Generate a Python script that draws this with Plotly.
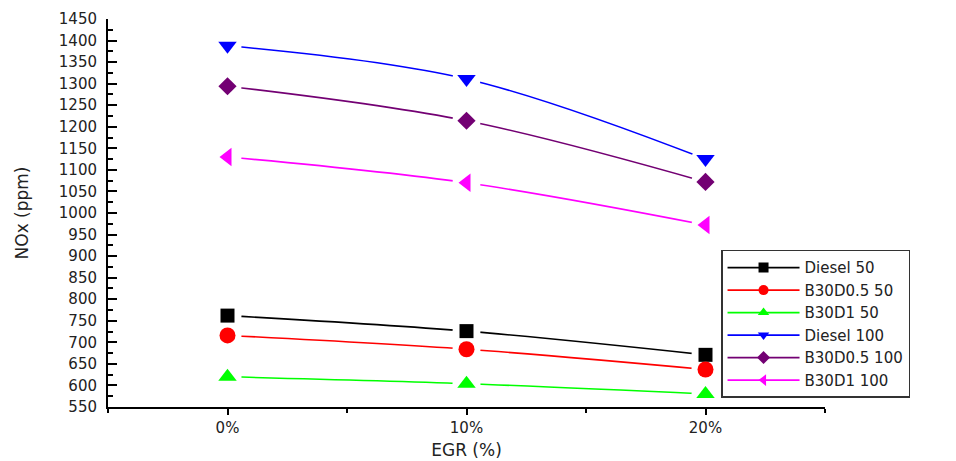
import plotly.graph_objects as go

egr = [0, 10, 20]
egr_labels = ["0%", "10%", "20%"]

series_names = ["Diesel 50", "B30D0.5 50", "B30D1 50", "Diesel 100", "B30D0.5 100", "B30D1 100"]
diesel_50 = [762, 726, 671]
b30d05_50 = [716, 684, 637]
b30d1_50 = [620, 604, 580]
diesel_100 = [1388, 1311, 1125]
b30d05_100 = [1294, 1214, 1072]
b30d1_100 = [1130, 1070, 972]

values = [diesel_50, b30d05_50, b30d1_50, diesel_100, b30d05_100, b30d1_100]
colors = ["#000000", "#FF0000", "#00FF00", "#0000FF", "#730073", "#FF00FF"]
symbols = ["square", "circle", "triangle-up", "triangle-down", "diamond", "triangle-left"]
sizes = [14, 16, 16, 16, 14, 16]

fig = go.Figure()

# smoothed lines
for v, c in zip(values, colors):
    fig.add_trace(go.Scatter(x=egr, y=v, mode="lines",
                             line=dict(color=c, width=1.6, shape="spline", smoothing=1.0),
                             showlegend=False, hoverinfo="skip"))
# white halos give the gaps around markers
for v in values:
    fig.add_trace(go.Scatter(x=egr, y=v, mode="markers",
                             marker=dict(color="white", size=28, symbol="circle"),
                             showlegend=False, hoverinfo="skip"))
# markers
for name, v, c, s, sz in zip(series_names, values, colors, symbols, sizes):
    fig.add_trace(go.Scatter(x=egr, y=v, mode="markers", name=name, showlegend=False,
                             marker=dict(color=c, size=sz, symbol=s, line=dict(width=0))))
# legend entries (line + marker)
for name, c, s in zip(series_names, colors, symbols):
    fig.add_trace(go.Scatter(x=[None], y=[None], mode="lines+markers", name=name,
                             line=dict(color=c, width=1.6),
                             marker=dict(color=c, size=10, symbol=s, line=dict(width=0))))

font_family = "DejaVu Sans, Arial, sans-serif"

# page body has an 8px margin, so the figure is offset by (8, 8) in the window
fig.update_layout(
    width=948, height=453,
    margin=dict(l=100, r=131, t=11, b=54),
    paper_bgcolor="white", plot_bgcolor="white",
    font=dict(family=font_family, size=14, color="#222222"),
    showlegend=True,
    legend=dict(x=0.855, y=0.405, xanchor="left", yanchor="top",
                bordercolor="#333333", borderwidth=1.5, bgcolor="white",
                font=dict(size=15, family=font_family, color="#222222"),
                itemwidth=72, tracegroupgap=0),
    xaxis=dict(range=[-5, 25], tickvals=egr, ticktext=egr_labels, automargin=False,
               showline=True, linecolor="black", linewidth=2, showgrid=False, zeroline=False,
               ticks="outside", ticklen=6, tickwidth=2, tickcolor="black",
               minor=dict(dtick=5, tick0=0, ticks="outside", ticklen=4, tickwidth=1.5, tickcolor="black"),
               tickfont=dict(size=15),
               title=dict(text="EGR (%)", font=dict(size=17), standoff=8)),
    yaxis=dict(range=[550, 1450], dtick=50, tick0=550, automargin=False,
               showline=True, linecolor="black", linewidth=2, showgrid=False, zeroline=False,
               ticks="inside", ticklen=9, tickwidth=1.5, tickcolor="black",
               minor=dict(dtick=25, ticks="inside", ticklen=5, tickwidth=1.5, tickcolor="black"),
               tickfont=dict(size=15), ticklabelstandoff=6,
               title=dict(text="NOx (ppm)", font=dict(size=17), standoff=26)),
)

fig.write_html("out.html")
